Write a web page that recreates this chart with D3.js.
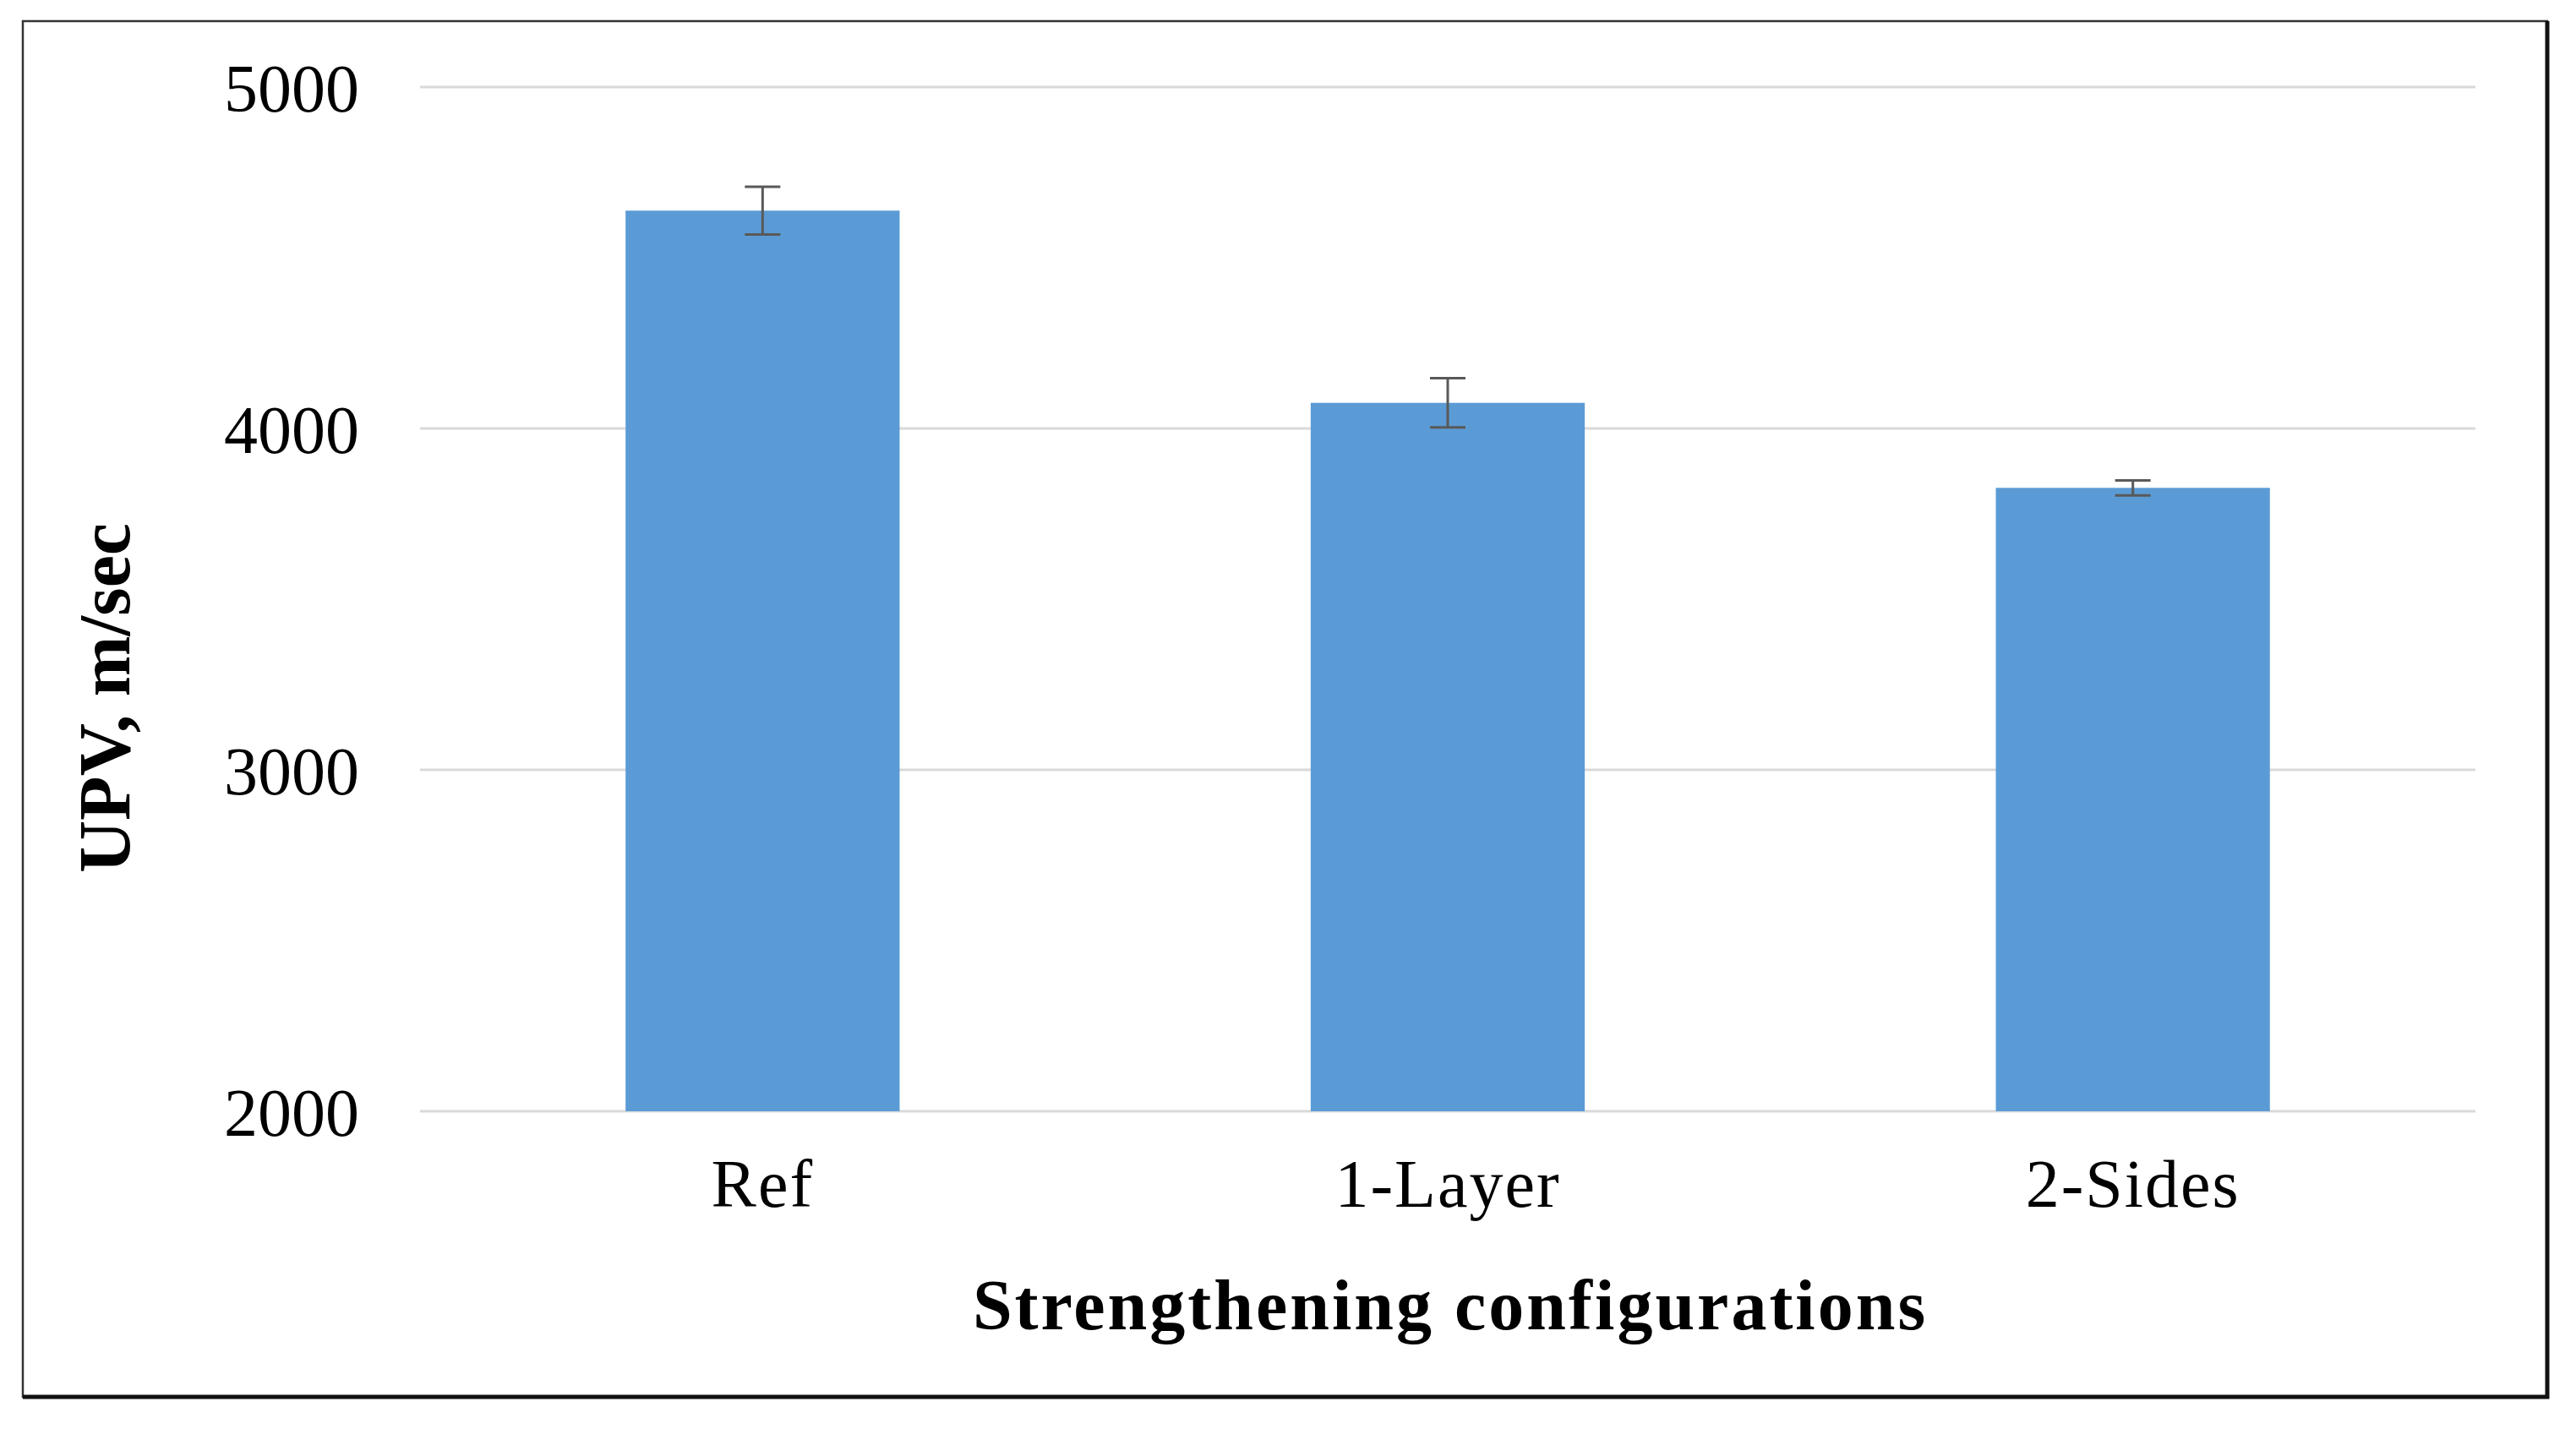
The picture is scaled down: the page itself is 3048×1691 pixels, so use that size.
<!DOCTYPE html>
<html>
<head>
<meta charset="utf-8">
<script src="https://cdn.jsdelivr.net/npm/d3@7"></script>
<style>
  body { margin: 0; background: #fff; }
  text { font-family: "Liberation Serif", "Times New Roman", serif; }
</style>
</head>
<body>
<div id="plot"></div>
<script>
// bar data
let categories = ['Ref', '1-Layer', '2-Sides']
let upv = [4638, 4075, 3826]
let errs = [70, 72, 22]
let yTicks = [2000, 3000, 4000, 5000]

let svg = d3.select('#plot').append('svg')
.attr('width', 3048)
.attr('height', 1691)

// outer frame
svg.append('rect')
.attr('x', 27)
.attr('y', 25)
.attr('width', 2987)
.attr('height', 1628)
.attr('fill', 'white')
.attr('stroke', '#333')
.attr('stroke-width', 2.5)

// right/bottom heavier edge
svg.append('path')
.attr('d', 'M3014,25 V1653 H27')
.attr('fill', 'none')
.attr('stroke', '#111')
.attr('stroke-width', 5)

let x = d3.scaleBand()
.domain(categories)
.range([497, 2929])
.paddingInner(0.6)
.paddingOuter(0.3)

let y = d3.scaleLinear()
.domain([2000, 5000])
.range([1315, 103])

// gridlines
svg.append('g')
.selectAll('line')
.data(yTicks)
.enter()
.append('line')
.attr('x1', 497)
.attr('x2', 2929)
.attr('y1', d => y(d))
.attr('y2', d => y(d))
.attr('stroke', '#d9d9d9')
.attr('stroke-width', 3)

// y tick labels
svg.append('g')
.selectAll('text')
.data(yTicks)
.enter()
.append('text')
.attr('x', 425)
.attr('y', d => y(d))
.attr('dy', '0.36em')
.attr('text-anchor', 'end')
.style('font-size', '80px')
.text(d => d)

// bars
svg.append('g')
.selectAll('rect')
.data(categories)
.enter()
.append('rect')
.attr('x', d => x(d))
.attr('y', (d, i) => y(upv[i]))
.attr('width', x.bandwidth())
.attr('height', (d, i) => y(2000) - y(upv[i]))
.attr('fill', '#5b9bd5')

// error bars
let eb = svg.append('g')
.attr('stroke', '#595959')
.attr('stroke-width', 3)

categories.forEach(function(c, i) {
  let cx = x(c) + x.bandwidth() / 2
  let top = y(upv[i] + errs[i])
  let bot = y(upv[i] - errs[i])
  eb.append('line').attr('x1', cx).attr('x2', cx).attr('y1', top).attr('y2', bot)
  eb.append('line').attr('x1', cx - 21).attr('x2', cx + 21).attr('y1', top).attr('y2', top)
  eb.append('line').attr('x1', cx - 21).attr('x2', cx + 21).attr('y1', bot).attr('y2', bot)
})

// category labels
svg.append('g')
.selectAll('text')
.data(categories)
.enter()
.append('text')
.attr('x', d => x(d) + x.bandwidth() / 2)
.attr('y', 1428)
.attr('text-anchor', 'middle')
.style('font-size', '80px')
.style('letter-spacing', '2px')
.text(d => d)

// axis titles
svg.append('text')
.attr('x', 1716)
.attr('y', 1573)
.attr('text-anchor', 'middle')
.style('font-size', '84px')
.style('font-weight', 'bold')
.style('letter-spacing', '3px')
.text('Strengthening configurations')

svg.append('text')
.attr('transform', 'translate(153, 826) rotate(-90)')
.attr('text-anchor', 'middle')
.style('font-size', '86px')
.style('font-weight', 'bold')
.text('UPV, m/sec')
</script>
</body>
</html>
